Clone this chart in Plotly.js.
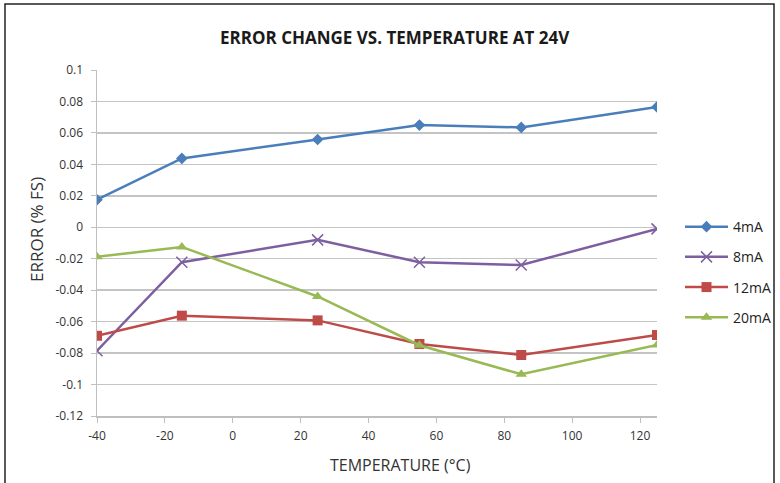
<!DOCTYPE html>
<html>
<head>
<meta charset="utf-8">
<script src="https://cdn.plot.ly/plotly-3.0.1.min.js"></script>
<style>
html,body{margin:0;padding:0;background:#fff;}
#chart{width:780px;height:483px;}
</style>
</head>
<body>
<div id="chart"></div>
<script>
const temperature = [-40, -15, 25, 55, 85, 125];
const err4mA  = [0.0175, 0.0438, 0.0558, 0.0650, 0.0635, 0.0765];
const err8mA  = [-0.0785, -0.0222, -0.0080, -0.0222, -0.0240, -0.0010];
const err12mA = [-0.0690, -0.0562, -0.0592, -0.0742, -0.0812, -0.0685];
const err20mA = [-0.0188, -0.0125, -0.0440, -0.0750, -0.0935, -0.0748];
const seriesNames = ['4mA', '8mA', '12mA', '20mA'];
const yTickVals = [0.1, 0.08, 0.06, 0.04, 0.02, 0, -0.02, -0.04, -0.06, -0.08, -0.1, -0.12];
const yTickText = ['0.1', '0.08', '0.06', '0.04', '0.02', '0', '-0.02', '-0.04', '-0.06', '-0.08', '-0.1', '-0.12'];
const xTickVals = [-40, -20, 0, 20, 40, 60, 80, 100, 120];
const xTickText = ['-40', '-20', '0', '20', '40', '60', '80', '100', '120'];

const colors = ['#4a7ebb', '#7d5fa0', '#be4b48', '#98b954'];
const symbols = ['diamond', 'x-thin-open', 'square', 'triangle-up'];
const sizes = [9, 11, 10, 10];
const ys = [err4mA, err8mA, err12mA, err20mA];

const traces = ys.map((y, i) => ({
  x: temperature, y: y, name: seriesNames[i], type: 'scatter', mode: 'lines+markers',
  legendgroup: 'g' + i,
  line: {color: colors[i], width: 2.5},
  marker: {symbol: symbols[i], size: sizes[i], color: colors[i],
           line: {color: colors[i], width: i === 1 ? 1.5 : 0}}
}));

const fontFam = '"Open Sans", "Liberation Sans", Arial, sans-serif';
const pw = 780 - 97 - 123, ph = 483 - 70 - 67;
const px = v => (v - 97) / pw;      // pixel x -> paper
const py = v => (416 - v) / ph;     // pixel y -> paper
const layout = {
  width: 780, height: 483,
  margin: {l: 97, r: 123, t: 70, b: 67, autoexpand: false},
  paper_bgcolor: '#ffffff', plot_bgcolor: '#ffffff',
  font: {family: fontFam, size: 12, color: '#333333'},
  title: {text: '<b>ERROR CHANGE VS. TEMPERATURE AT 24V</b>', x: 0.506, xanchor: 'center', y: 0.922, yanchor: 'middle',
          font: {family: fontFam, size: 17, color: '#1a1a1a'}},
  xaxis: {range: [-40, 125], tickvals: xTickVals, ticktext: xTickText, automargin: false,
          showgrid: false, zeroline: false, showline: true, linecolor: '#bfbfbf', linewidth: 1.5,
          ticks: 'outside', ticklen: 5, tickcolor: '#bfbfbf', tickfont: {size: 12, color: '#333'},
          ticklabelstandoff: 3},
  yaxis: {range: [-0.12, 0.1], tickvals: yTickVals, ticktext: yTickText, automargin: false,
          showgrid: true, gridcolor: '#c4c4c4', gridwidth: 1.5, zeroline: false,
          showline: true, linecolor: '#bfbfbf', linewidth: 1.5,
          ticks: 'outside', ticklen: 5, tickcolor: '#bfbfbf', tickfont: {size: 12, color: '#333'},
          ticklabelstandoff: 5},
  legend: {x: 1.0 + 23 / pw, xanchor: 'left', y: 0.416, yanchor: 'middle', traceorder: 'grouped', tracegroupgap: 9,
           font: {size: 14, color: '#222'}, bgcolor: 'rgba(0,0,0,0)', itemwidth: 43},
  shapes: [{type: 'rect', xref: 'paper', yref: 'paper',
    x0: px(5), x1: px(774), y0: py(490), y1: py(4),
    line: {color: '#222', width: 1.5}}],
  annotations: [
    {text: 'TEMPERATURE (°C)', xref: 'paper', yref: 'paper', x: px(400), y: py(465),
     xanchor: 'center', yanchor: 'middle', showarrow: false, font: {size: 16, color: '#333'}},
    {text: 'ERROR (% FS)', xref: 'paper', yref: 'paper', x: px(36), y: py(230), textangle: -90,
     xanchor: 'center', yanchor: 'middle', showarrow: false, font: {size: 17, color: '#333'}}
  ],
  showlegend: true
};

Plotly.newPlot('chart', traces, layout, {displayModeBar: false, staticPlot: true});
</script>
</body>
</html>
